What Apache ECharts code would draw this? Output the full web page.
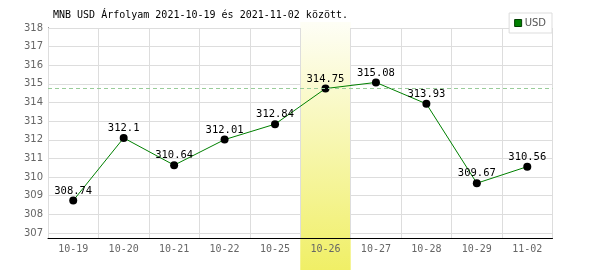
<!DOCTYPE html>
<html>
<head>
<meta charset="utf-8">
<script src="https://cdn.jsdelivr.net/npm/echarts@6/dist/echarts.min.js"></script>
<style>html,body{margin:0;padding:0;background:#fff;}#c{width:600px;height:270px;}</style>
</head>
<body>
<div id="c"></div>
<script>
const categories = ['10-19','10-20','10-21','10-22','10-25','10-26','10-27','10-28','10-29','11-02'];
const usdValues = [308.74, 312.1, 310.64, 312.01, 312.84, 314.75, 315.08, 313.93, 309.67, 310.56];
const yTicks = [307,308,309,310,311,312,313,314,315,316,317,318];
const highlightDay = '10-26';
const highlightValue = 314.75;
const yMin = 306.73, yMax = 318;
const titleText = 'MNB USD Árfolyam 2021-10-19 és 2021-11-02 között.';
const bandData = categories.map(c => c === highlightDay ? 1 : null);

const chart = echarts.init(document.getElementById('c'), null, {renderer:'canvas'});
chart.setOption({
  animation: false,
  backgroundColor: '#fff',
  title: {
    text: titleText, left: 53, top: 10, padding: 0,
    textStyle: {fontFamily: 'DejaVu Sans Mono', fontSize: 10, fontWeight: 'normal', color: '#000'}
  },
  legend: {
    right: 48, top: 13, padding: [5, 6, 5, 5],
    backgroundColor: '#fff', borderColor: '#ddd', borderWidth: 1, borderRadius: 0,
    itemWidth: 7, itemHeight: 7, itemGap: 4,
    textStyle: {fontFamily: 'DejaVu Sans', fontSize: 10, color: '#555', padding: [0,0,0,-2]},
    data: [{name: 'USD', icon: 'rect', itemStyle: {color: '#008000', borderColor: '#004000', borderWidth: 1}}]
  },
  grid: [
    {left: 48, right: 47.5, top: 28, bottom: 32, containLabel: false},
    {left: 48, right: 47.5, top: 22, bottom: 0, containLabel: false}
  ],
  xAxis: [{
    type: 'category', data: categories, boundaryGap: true, z: 3, gridIndex: 0,
    axisLine: {show: true, lineStyle: {color: '#000', width: 1}},
    axisTick: {show: false},
    axisLabel: {fontFamily: 'DejaVu Sans Mono', fontSize: 10, color: '#666', margin: 6},
    splitLine: {show: true, lineStyle: {color: '#ddd', width: 1}}
  }, {
    type: 'category', data: categories, boundaryGap: true, gridIndex: 1, show: false
  }],
  yAxis: [{
    type: 'value', min: yMin, max: yMax, z: 0, gridIndex: 0,
    axisLine: {show: true, lineStyle: {color: '#000', width: 1}},
    axisTick: {show: false, customValues: yTicks},
    axisLabel: {customValues: yTicks, fontFamily: 'DejaVu Sans', fontSize: 10, color: '#666', margin: 5},
    splitLine: {show: true, lineStyle: {color: '#ddd', width: 1}}
  }, {
    type: 'value', min: 0, max: 1, gridIndex: 1, show: false
  }],
  series: [{
    name: 'band', type: 'bar', xAxisIndex: 1, yAxisIndex: 1, z: 1,
    data: bandData, barWidth: '100%', silent: true,
    itemStyle: {color: {type: 'linear', x: 0, y: 0, x2: 0, y2: 1, colorStops: [{offset: 0, color: '#fefef6'}, {offset: 1, color: '#f0ef66'}]}}
  }, {
    name: 'USD', type: 'line', data: usdValues, clip: false, z: 4,
    symbol: 'circle', symbolSize: 8,
    itemStyle: {color: '#000'},
    lineStyle: {color: '#008000', width: 1},
    label: {show: true, position: 'top', distance: 0, fontFamily: 'DejaVu Sans Mono', fontSize: 10.5, color: '#000'},
    markLine: {
      silent: true, symbol: ['none','none'], label: {show: false},
      lineStyle: {color: '#99cc99', type: [4, 3], width: 1},
      data: [{yAxis: highlightValue}]
    }
  }]
});
</script>
</body>
</html>
